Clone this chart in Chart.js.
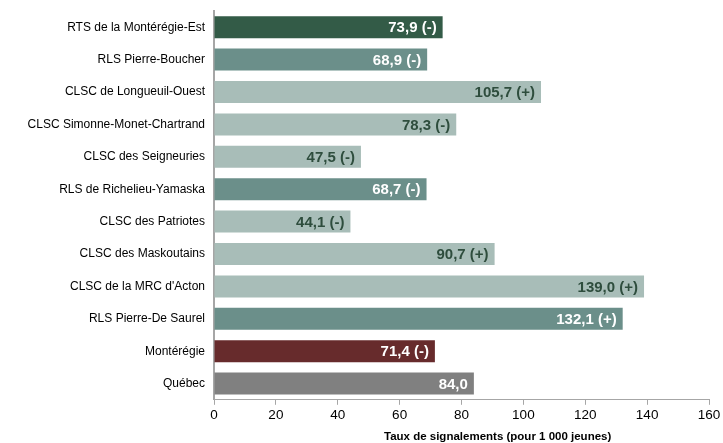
<!DOCTYPE html>
<html>
<head>
<meta charset="utf-8">
<script src="https://cdn.jsdelivr.net/npm/chart.js@4"></script>
<style>
  html, body { margin:0; padding:0; background:#fff; }
  #wrap { width:723px; height:443px; }
</style>
</head>
<body>
<div id="wrap"><canvas id="chart" width="723" height="443"></canvas></div>
<script>
// DATA
const categories = [
  'RTS de la Montérégie-Est',
  'RLS Pierre-Boucher',
  'CLSC de Longueuil-Ouest',
  'CLSC Simonne-Monet-Chartrand',
  'CLSC des Seigneuries',
  'RLS de Richelieu-Yamaska',
  'CLSC des Patriotes',
  'CLSC des Maskoutains',
  "CLSC de la MRC d'Acton",
  'RLS Pierre-De Saurel',
  'Montérégie',
  'Québec'
];

const values = [73.9, 68.9, 105.7, 78.3, 47.5, 68.7, 44.1, 90.7, 139.0, 132.1, 71.4, 84.0];

const signs = ['(-)', '(-)', '(+)', '(-)', '(-)', '(-)', '(-)', '(+)', '(+)', '(+)', '(-)', ''];

const xTicks = [0, 20, 40, 60, 80, 100, 120, 140, 160];

const axisTitle = 'Taux de signalements (pour 1 000 jeunes)';

// colours per level
const barColors = [
  '#335b47', '#6b8f8a', '#a8bdb8', '#a8bdb8', '#a8bdb8', '#6b8f8a',
  '#a8bdb8', '#a8bdb8', '#a8bdb8', '#6b8f8a', '#672b2c', '#808080'
];
const labelColors = barColors.map(c => c === '#a8bdb8' ? '#2e4d3d' : '#ffffff');

function fmt(v){
  return v.toFixed(1).replace('.', ',');
}

// labels inside bar ends
const valueLabels = {
  id:'valueLabels',
  afterDatasetsDraw(chart){
    const ctx = chart.ctx;
    const meta = chart.getDatasetMeta(0);
    ctx.save();
    ctx.font = 'bold 15px "Liberation Sans", Arial, sans-serif';
    ctx.textAlign = 'right';
    ctx.textBaseline = 'middle';
    meta.data.forEach((bar, i) => {
      const txt = fmt(values[i]) + (signs[i] ? ' ' + signs[i] : '');
      ctx.fillStyle = labelColors[i];
      ctx.fillText(txt, bar.x - 6, bar.y + 1);
    });
    ctx.restore();
  }
};

// axis title, sits right of centre like the original
const xTitle = {
  id:'xTitle',
  afterDraw(chart){
    const ctx = chart.ctx;
    const a = chart.chartArea;
    ctx.save();
    ctx.font = 'bold 11.5px "Liberation Sans", Arial, sans-serif';
    ctx.fillStyle = '#000';
    ctx.textAlign = 'center';
    ctx.textBaseline = 'middle';
    ctx.fillText(axisTitle, a.left + (a.right - a.left) * 0.573, 437);
    ctx.restore();
  }
};

new Chart(
  document.getElementById('chart'),
  {
    type:'bar',
    data:{
      labels:categories,
      datasets:[{
        data:values,
        backgroundColor:barColors,
        categoryPercentage:1,
        barPercentage:0.68
      }]
    },
    options:{
      indexAxis:'y',
      responsive:false,
      animation:false,
      layout:{ padding:{ top:11, right:14, bottom:18, left:0 } },
      plugins:{
        legend:{ display:false },
        tooltip:{ enabled:false }
      },
      scales:{
        x:{
          min:0,
          max:160,
          afterBuildTicks(scale){
            scale.ticks = xTicks.map(v => ({ value:v }));
          },
          grid:{
            display:true,
            drawOnChartArea:false,
            drawTicks:true,
            tickLength:5,
            color:'#a6a6a6'
          },
          border:{ display:true, color:'#a6a6a6', width:1 },
          ticks:{
            color:'#000',
            font:{ family:'"Liberation Sans", Arial, sans-serif', size:13.5 },
            padding:2,
            maxRotation:0
          }
        },
        y:{
          afterFit(scale){
            scale.width = 214;
            scale.paddingTop = 0;
            scale.paddingBottom = 0;
          },
          grid:{ display:false, drawTicks:false },
          border:{ display:true, color:'#a6a6a6', width:2 },
          ticks:{
            color:'#000',
            font:{ family:'"Liberation Sans", Arial, sans-serif', size:12 },
            padding:9
          }
        }
      }
    },
    plugins:[valueLabels, xTitle]
  }
);
</script>
</body>
</html>
